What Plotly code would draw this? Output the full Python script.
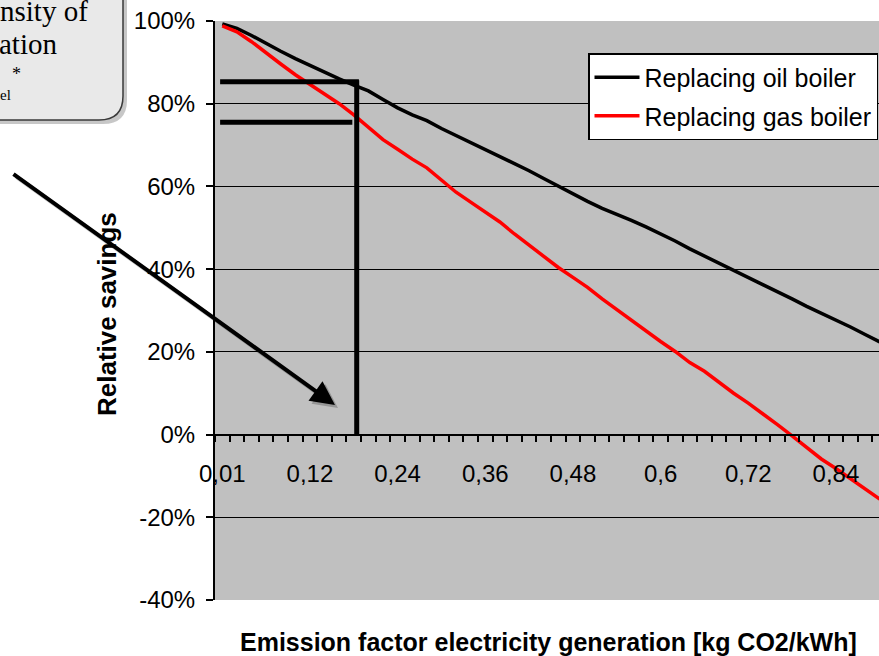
import plotly.graph_objects as go

# ---------------- data ----------------
emission_factor = ["0,01", "0,02", "0,04", "0,06", "0,08", "0,1", "0,12", "0,14", "0,16", "0,18",
                   "0,2", "0,22", "0,24", "0,26", "0,28", "0,3", "0,32", "0,34", "0,36", "0,38",
                   "0,4", "0,42", "0,44", "0,46", "0,48", "0,5", "0,52", "0,54", "0,56", "0,58",
                   "0,6", "0,62", "0,64", "0,66", "0,68", "0,7", "0,72", "0,74", "0,76", "0,78",
                   "0,8", "0,82", "0,84", "0,86", "0,88", "0,9"]
oil_savings = [99.3, 98.2, 96.5, 94.5, 92.7, 90.9, 89.2, 87.6, 86.0, 84.5,
               83.1, 81.0, 79.0, 77.3, 75.9, 74.0, 72.3, 70.6, 69.0, 67.4,
               65.6, 63.8, 61.9, 60.0, 58.3, 56.4, 54.7, 53.3, 51.8, 50.2,
               48.6, 46.8, 44.9, 43.2, 41.4, 39.7, 38.0, 36.3, 34.6, 32.8,
               31.0, 29.4, 27.7, 26.0, 24.2, 22.4]
gas_savings = [98.8, 97.4, 95.0, 92.2, 89.6, 87.0, 84.7, 82.2, 80.0, 77.3,
               74.2, 71.3, 69.0, 66.6, 64.5, 61.6, 58.6, 56.2, 53.7, 51.4,
               48.5, 45.8, 43.0, 40.4, 38.0, 35.6, 32.8, 30.2, 27.7, 25.1,
               22.5, 20.1, 17.4, 15.3, 12.6, 10.0, 7.6, 5.1, 2.4, -0.3,
               -3.2, -5.9, -8.2, -10.6, -13.0, -15.6]
tick_labels = ["0,01", "0,12", "0,24", "0,36", "0,48", "0,6", "0,72", "0,84"]
y_ticks = [-40, -20, 0, 20, 40, 60, 80, 100]
y_tick_labels = ["-40%", "-20%", "0%", "20%", "40%", "60%", "80%", "100%"]

# highlighted reading (index position on category axis, savings in %)
marker_pos = 9.2
marker_oil = 85.3
marker_gas = 75.5

x_idx = list(range(len(emission_factor)))
tick_pos = [emission_factor.index(t) for t in tick_labels]

# ---------------- geometry helpers (pixel -> paper) ----------------
W, H = 879, 656
L, R, T, B = 215, 879, 21, 600
PW, PH = R - L, B - T


def px(x):
    return (x - L) / PW


def py(y):
    return (B - y) / PH


FONT = "Liberation Sans"
SERIF = "Liberation Serif"

fig = go.Figure()
fig.add_trace(go.Scatter(x=x_idx, y=oil_savings, mode="lines", name="Replacing oil boiler",
                         line=dict(color="black", width=3.5), legendgroup="a"))
fig.add_trace(go.Scatter(x=x_idx, y=gas_savings, mode="lines", name="Replacing gas boiler",
                         line=dict(color="#ff0000", width=3.5), legendgroup="b"))

shapes = []


def rounded_path(x0, y0, x1, y1, r):
    pts = [
        ("M", (x0 + r, y0)), ("L", (x1 - r, y0)), ("Q", (x1, y0), (x1, y0 + r)),
        ("L", (x1, y1 - r)), ("Q", (x1, y1), (x1 - r, y1)), ("L", (x0 + r, y1)),
        ("Q", (x0, y1), (x0, y1 - r)), ("L", (x0, y0 + r)), ("Q", (x0, y0), (x0 + r, y0)),
    ]
    s = ""
    for p in pts:
        coords = " ".join(f"{px(a):.5f},{py(b):.5f}" for a, b in p[1:])
        s += f"{p[0]} {coords} "
    return s + "Z"


# rounded text box (top-left, partly outside the picture) with shadow
shapes.append(dict(type="path", xref="paper", yref="paper",
                   path=rounded_path(-40, -40, 127, 124, 24),
                   fillcolor="rgba(0,0,0,0.22)", line=dict(width=0), layer="above"))
shapes.append(dict(type="path", xref="paper", yref="paper",
                   path=rounded_path(-40, -40, 123, 120, 24),
                   fillcolor="#e9e9e9", line=dict(color="#3a3a3a", width=1.5), layer="above"))

# highlight lines
shapes.append(dict(type="line", xref="x", yref="y", x0=marker_pos, x1=marker_pos, y0=0, y1=marker_oil + 0.4,
                   line=dict(color="black", width=5), layer="above"))
shapes.append(dict(type="line", xref="x", yref="y", x0=-0.15, x1=marker_pos + 0.15, y0=marker_oil, y1=marker_oil,
                   line=dict(color="black", width=5), layer="above"))
shapes.append(dict(type="line", xref="x", yref="y", x0=-0.15, x1=marker_pos - 0.3, y0=marker_gas, y1=marker_gas,
                   line=dict(color="black", width=5), layer="above"))

annotations = []
# arrow (with soft shadow)
tip_x = (335 - L) / 14.61 - 0.5
tip_y = 100 - (405 - T) / (PH / 140)
for shift, col in [((3, -3), "rgba(0,0,0,0.22)"), ((0, 0), "black")]:
    annotations.append(dict(x=tip_x, y=tip_y, xref="x", yref="y", text="", showarrow=True,
                            ax=-323, ay=-232, arrowhead=2, arrowsize=1.2, arrowwidth=4,
                            arrowcolor=col, xshift=shift[0], yshift=shift[1]))

# box text fragments
annotations += [
    dict(x=px(90), y=py(11), xref="paper", yref="paper", text="nsity of", showarrow=False,
         xanchor="right", yanchor="middle", font=dict(family=SERIF, size=29, color="black")),
    dict(x=px(59), y=py(44), xref="paper", yref="paper", text="ation", showarrow=False,
         xanchor="right", yanchor="middle", font=dict(family=SERIF, size=29, color="black")),
    dict(x=px(16), y=py(74), xref="paper", yref="paper", text="*", showarrow=False,
         xanchor="center", yanchor="middle", font=dict(family=SERIF, size=18, color="black")),
    dict(x=px(13), y=py(95), xref="paper", yref="paper", text="el", showarrow=False,
         xanchor="right", yanchor="middle", font=dict(family=SERIF, size=15, color="black")),
]

# axis titles
annotations.append(dict(x=px(548), y=py(642), xref="paper", yref="paper",
                        text="<b>Emission factor electricity generation [kg CO2/kWh]</b>",
                        showarrow=False, xanchor="center", yanchor="middle",
                        font=dict(family=FONT, size=25, color="black")))
annotations.append(dict(x=px(107), y=py(314), xref="paper", yref="paper",
                        text="<b>Relative savings</b>", textangle=-90,
                        showarrow=False, xanchor="center", yanchor="middle",
                        font=dict(family=FONT, size=26, color="black")))

fig.update_layout(
    width=W, height=H,
    margin=dict(l=L, r=W - R, t=T, b=H - B, pad=0),
    paper_bgcolor="white", plot_bgcolor="#c0c0c0",
    font=dict(family=FONT, size=24, color="black"),
    showlegend=True,
    legend=dict(x=px(878), y=py(53), xanchor="right", yanchor="top",
                bgcolor="white", bordercolor="black", borderwidth=1.5,
                font=dict(family=FONT, size=25, color="black"),
                tracegroupgap=3, itemwidth=45),
    shapes=shapes, annotations=annotations,
)

fig.update_xaxes(
    range=[-0.5, 44.95], anchor="free", position=40 / 140,
    showline=True, linecolor="black", linewidth=1.5,
    showgrid=False, zeroline=False,
    tickmode="array", tickvals=tick_pos, ticktext=tick_labels, ticks="",
    ticklabelstandoff=18,
    tickfont=dict(family=FONT, size=24, color="black"),
    minor=dict(tick0=-0.5, dtick=1, ticks="outside", ticklen=7, tickwidth=1.5,
               tickcolor="black", showgrid=False),
)
fig.update_yaxes(
    range=[-40, 100], tickmode="array", tickvals=y_ticks, ticktext=y_tick_labels,
    showline=True, linecolor="black", linewidth=2,
    showgrid=True, gridcolor="black", gridwidth=1, zeroline=False,
    ticks="outside", ticklen=7, tickwidth=1.5, tickcolor="black",
    ticklabelstandoff=6,
    tickfont=dict(family=FONT, size=24, color="black"),
)

fig.write_html("out.html", config={"displayModeBar": False},
               post_script="document.body.style.margin='0';document.body.style.overflow='hidden';")
